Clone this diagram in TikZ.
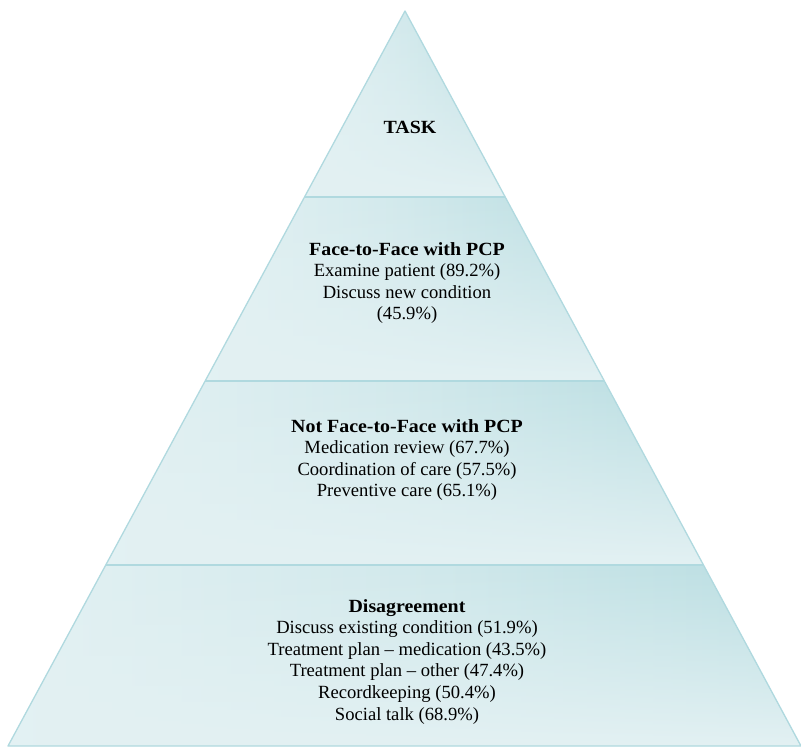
\documentclass[tikz,border=0pt]{standalone}
\usepackage{fontspec}
\usepackage{graphicx}
\setmainfont{Liberation Serif}
\usetikzlibrary{calc,fadings}
\definecolor{lightc}{HTML}{E3F1F3}
\definecolor{darkc}{HTML}{B8DDE1}
\definecolor{edgec}{HTML}{B0D9DF}
\tikzset{
  layer/.style={left color=lightc, right color=darkc, middle color=lightc!60!darkc},
  fadelayer/.style={fill=lightc, path fading=north},
  outline/.style={draw=edgec, line width=1.3pt, line join=round},
  lbl/.style={anchor=base, inner sep=0pt, font=\fontsize{18.6}{21.6}\selectfont, text=black}
}
\newcommand{\lines}[1]{\setlength{\tabcolsep}{0pt}\begin{tabular}[t]{c}#1\end{tabular}}
\newcommand{\ttl}[1]{\scalebox{1.07}[1]{\textbf{#1}}}
\begin{document}
\begin{tikzpicture}[x=1pt,y=-1pt]
\useasboundingbox (0,0) rectangle (801,749);
\coordinate (A) at (405,11);
\coordinate (BL) at (8,746);
\coordinate (BR) at (801,746);
\coordinate (L1) at ($(A)!0.2531!(BL)$);
\coordinate (R1) at ($(A)!0.2531!(BR)$);
\coordinate (L2) at ($(A)!0.5034!(BL)$);
\coordinate (R2) at ($(A)!0.5034!(BR)$);
\coordinate (L3) at ($(A)!0.7537!(BL)$);
\coordinate (R3) at ($(A)!0.7537!(BR)$);
\shade[layer] (A) -- (R1) -- (L1) -- cycle;
\shade[layer] (L1) -- (R1) -- (R2) -- (L2) -- cycle;
\shade[layer] (L2) -- (R2) -- (R3) -- (L3) -- cycle;
\shade[layer] (L3) -- (R3) -- (BR) -- (BL) -- cycle;
\fill[fadelayer] (A) -- (R1) -- (L1) -- cycle;
\fill[fadelayer] (L1) -- (R1) -- (R2) -- (L2) -- cycle;
\fill[fadelayer] (L2) -- (R2) -- (R3) -- (L3) -- cycle;
\fill[fadelayer] (L3) -- (R3) -- (BR) -- (BL) -- cycle;
\draw[outline] (A) -- (BR) -- (BL) -- cycle;
\draw[outline] (L1) -- (R1);
\draw[outline] (L2) -- (R2);
\draw[outline] (L3) -- (R3);
\node[lbl] (t1) at (410,134) {\lines{\ttl{TASK}}};
\node[lbl] (t2) at (407,255) {\lines{\ttl{Face-to-Face with PCP}\\Examine patient (89.2\%)\\Discuss new condition\\(45.9\%)}};
\node[lbl] (t3) at (407,432) {\lines{\ttl{Not Face-to-Face with PCP}\\Medication review (67.7\%)\\Coordination of care (57.5\%)\\Preventive care (65.1\%)}};
\node[lbl] (t4) at (407,612) {\lines{\ttl{Disagreement}\\Discuss existing condition (51.9\%)\\Treatment plan -- medication (43.5\%)\\Treatment plan -- other (47.4\%)\\Recordkeeping (50.4\%)\\Social talk (68.9\%)}};
\end{tikzpicture}
\end{document}
